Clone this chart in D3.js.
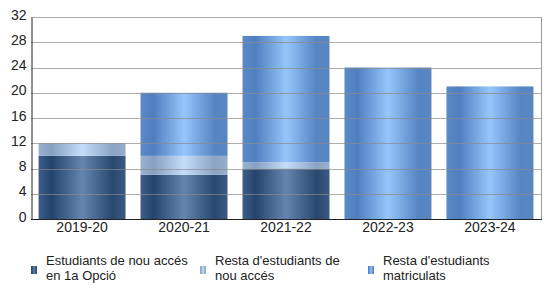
<!DOCTYPE html>
<html>
<head>
<script src="https://d3js.org/d3.v7.min.js"></script>
<style>
  body { margin: 0; background: #fff; }
  text { font-family: "Liberation Sans", Arial, sans-serif; fill: #222; }
</style>
</head>
<body>
<div id="chart"></div>
<script>
var years = ["2019-20", "2020-21", "2021-22", "2022-23", "2023-24"];
var primera = [10, 7, 8, 0, 0];
var restaNou = [2, 3, 1, 0, 0];
var restaMatric = [0, 10, 20, 24, 21];
var yTicks = [0, 4, 8, 12, 16, 20, 24, 28, 32];
var seriesNames = ["Estudiants de nou accés|en 1a Opció", "Resta d'estudiants de|nou accés", "Resta d'estudiants|matriculats"];

// gradient stops per series: edge, dark, light, dark, edge
var palettes = [
  ["#3d5e88", "#24446d", "#6685ae", "#28486f", "#3a5a84"],
  ["#9ab2d0", "#86a0c2", "#c4ddf8", "#8aa4c5", "#97aecb"],
  ["#5c8ac6", "#4f7fbf", "#96c6fc", "#5585c3", "#5a87c3"]
];

var W = 550, H = 305;
var pL = 31, pR = 541, pT = 17, pB = 219;

var svg = d3.select("#chart").append("svg")
  .attr("width", W).attr("height", H);

var defs = svg.append("defs");
palettes.forEach(function (p, i) {
  var g = defs.append("linearGradient").attr("id", "g" + i)
    .attr("x1", "0%").attr("x2", "100%").attr("y1", "0%").attr("y2", "0%");
  [0, 0.15, 0.5, 0.85, 1].forEach(function (o, j) {
    g.append("stop").attr("offset", o).attr("stop-color", p[j]);
  });
});

var x = d3.scaleBand().domain(years).range([pL, pR]).paddingInner(0.147).paddingOuter(0.074);
var y = d3.scaleLinear().domain([0, 32]).range([pB, pT]);

var data = years.map(function (yr, i) {
  return { year: yr, a: primera[i], b: restaNou[i], c: restaMatric[i] };
});
var stack = d3.stack().keys(["a", "b", "c"])(data);

svg.selectAll(".layer").data(stack).enter().append("g")
  .attr("fill", function (d, i) { return "url(#g" + i + ")"; })
  .selectAll("rect").data(function (d) { return d; }).enter()
  .filter(function (d) { return d[1] > d[0]; })
  .append("rect")
  .attr("x", function (d) { return x(d.data.year); })
  .attr("width", x.bandwidth())
  .attr("y", function (d) { return y(d[1]); })
  .attr("height", function (d) { return y(d[0]) - y(d[1]); });

// grid on top, faint over bars
svg.append("g").selectAll("line").data(yTicks.slice(1)).enter().append("line")
  .attr("x1", pL).attr("x2", pR)
  .attr("y1", function (d) { return Math.round(y(d)) + 0.5; })
  .attr("y2", function (d) { return Math.round(y(d)) + 0.5; })
  .attr("stroke", "#8a8a8a").attr("stroke-opacity", 0.7);

svg.append("line").attr("x1", pR + 0.5).attr("x2", pR + 0.5)
  .attr("y1", pT).attr("y2", pB).attr("stroke", "#999");

var yAxis = svg.append("g").attr("transform", "translate(" + (pL + 0.5) + ",0)")
  .call(d3.axisLeft(y).tickValues(yTicks).tickSize(0).tickPadding(5));
yAxis.select(".domain").attr("stroke", "#222");
yAxis.selectAll("text").attr("font-size", 14).attr("dy", "0.15em").attr("fill", "#222");

var xAxis = svg.append("g").attr("transform", "translate(0," + (pB + 0.5) + ")")
  .call(d3.axisBottom(x).tickSize(0).tickPadding(3));
xAxis.select(".domain").attr("stroke", "#222").attr("d", "M" + pL + ",0H" + (pR + 1));
xAxis.selectAll("text").attr("font-size", 14).attr("fill", "#111");

// legend
var lx = [31, 200, 368];
var leg = svg.append("g").selectAll("g").data(seriesNames).enter().append("g")
  .attr("transform", function (d, i) { return "translate(" + lx[i] + ",0)"; });
leg.append("rect").attr("x", 0).attr("y", 266).attr("width", 6).attr("height", 8)
  .attr("fill", function (d, i) { return "url(#g" + i + ")"; });
leg.append("text").attr("x", 15).attr("y", 265).attr("font-size", 13).attr("fill", "#444")
  .selectAll("tspan").data(function (d) { return d.split("|"); }).enter().append("tspan")
  .attr("x", 15).attr("dy", function (d, i) { return i ? 15 : 0; })
  .text(function (d) { return d; });
</script>
</body>
</html>
